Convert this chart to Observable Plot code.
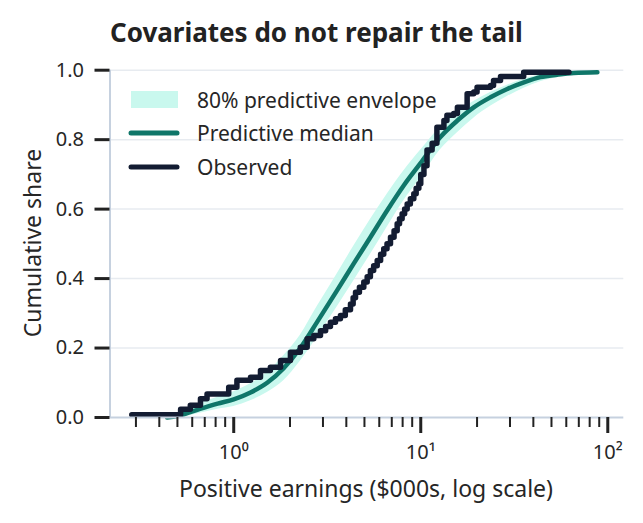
<!DOCTYPE html>
<html><head><meta charset="utf-8">
<script src="https://cdn.jsdelivr.net/npm/d3@7"></script>
<script src="https://cdn.jsdelivr.net/npm/@observablehq/plot@0.6"></script>
<style>
html,body{margin:0;padding:0;background:#fff;}
#wrap{position:relative;width:643px;height:523px;font-family:"Noto Sans",Lato,sans-serif;color:#262626;overflow:hidden;background:#fff}
#title{position:absolute;left:110px;top:19px;font-size:26px;line-height:26px;font-weight:700;color:#222;white-space:nowrap}
#chart{position:absolute;left:0;top:55px}
#ylab{position:absolute;left:32px;top:243px;transform:translate(-50%,-50%) rotate(-90deg);font-size:23px;line-height:23px;white-space:nowrap;color:#262626}
#xlab{position:absolute;left:366px;top:476.5px;transform:translateX(-50%);font-size:23px;line-height:23px;white-space:nowrap}
#legend{position:absolute;left:0;top:0;pointer-events:none}
</style>
</head><body>
<div id="wrap">
  <div id="title">Covariates do not repair the tail</div>
  <div id="chart"></div>
  <div id="ylab">Cumulative share</div>
  <div id="xlab">Positive earnings ($000s, log scale)</div>
  <svg id="legend" width="643" height="523" font-family="'Noto Sans', Lato, sans-serif" font-size="21" fill="#262626">
    <rect x="131" y="91" width="47" height="17" fill="#c9f8ee"></rect>
    <text x="197" y="108">80% predictive envelope</text>
    <line x1="131" x2="177" y1="133" y2="133" stroke="#0f7669" stroke-width="5" stroke-linecap="round"></line>
    <text x="197" y="141">Predictive median</text>
    <line x1="131" x2="177" y1="167" y2="167" stroke="#131c32" stroke-width="5" stroke-linecap="round"></line>
    <text x="197" y="175">Observed</text>
  </svg>
</div>
<script>
// Predictive median CDF and 80% envelope (earnings in $000s)
const medX  = [0.44, 0.50, 0.66, 0.82, 1.0, 1.23, 1.51, 1.85, 2.27, 2.8, 3.57, 4.38, 5.38, 6.61, 8.11, 10.0, 12.7, 15.7, 19.2, 23.6, 29.0, 35.6, 43.6, 53.6, 65.8, 88];
const medY  = [0.0, 0.004, 0.025, 0.04, 0.052, 0.072, 0.10, 0.142, 0.20, 0.276, 0.366, 0.443, 0.519, 0.596, 0.668, 0.733, 0.807, 0.855, 0.893, 0.922, 0.946, 0.965, 0.98, 0.987, 0.992, 0.994];
const envHi = [0.002, 0.010, 0.040, 0.058, 0.074, 0.097, 0.13, 0.178, 0.237, 0.32, 0.413, 0.493, 0.57, 0.643, 0.71, 0.77, 0.836, 0.879, 0.91, 0.936, 0.957, 0.974, 0.986, 0.991, 0.994, 0.996];
const envLo = [0.0, 0.0, 0.012, 0.024, 0.032, 0.048, 0.072, 0.106, 0.162, 0.232, 0.318, 0.393, 0.469, 0.548, 0.624, 0.69, 0.77, 0.82, 0.862, 0.896, 0.924, 0.948, 0.967, 0.978, 0.986, 0.99];

// Observed empirical CDF (step points)
const obsX = [0.285, 0.52, 0.586, 0.664, 0.72, 0.94, 1.04, 1.23, 1.39, 1.57, 1.78, 2.01, 2.27, 2.47, 2.68, 2.91, 3.1, 3.29, 3.5, 3.72, 3.95, 4.21, 4.35, 4.48, 4.7, 4.96, 5.17, 5.38, 5.6, 5.85, 6.1, 6.34, 6.6, 6.89, 7.2, 7.48, 7.7, 7.95, 8.2, 8.46, 8.8, 9.18, 9.45, 9.77, 10.0, 10.4, 10.8, 11.5, 12.2, 13.3, 13.8, 15.0, 15.7, 17.7, 19.2, 20.0, 23.6, 24.5, 26.7, 35.5, 62];
const obsY = [0.008, 0.024, 0.035, 0.054, 0.068, 0.087, 0.107, 0.116, 0.135, 0.145, 0.164, 0.188, 0.202, 0.227, 0.236, 0.25, 0.262, 0.274, 0.284, 0.294, 0.31, 0.327, 0.345, 0.361, 0.375, 0.39, 0.405, 0.423, 0.437, 0.452, 0.47, 0.486, 0.50, 0.519, 0.538, 0.558, 0.572, 0.587, 0.60, 0.615, 0.63, 0.644, 0.66, 0.673, 0.70, 0.725, 0.77, 0.79, 0.836, 0.855, 0.87, 0.875, 0.893, 0.932, 0.937, 0.951, 0.956, 0.97, 0.982, 0.994, 0.994];

const xDomain = [0.218, 121.8];
const yTicks = [0, 0.2, 0.4, 0.6, 0.8, 1.0];
const xMajor = [1, 10, 100];
const xMinor = [0.3, 0.4, 0.5, 0.6, 0.7, 0.8, 0.9, 2, 3, 4, 5, 6, 7, 8, 9, 20, 30, 40, 50, 60, 70, 80, 90];
const supers = {"0": "\u2070", "1": "\u00b9", "2": "\u00b2"};

const env = medX.map((x, i) => ({x, lo: envLo[i], hi: envHi[i]}));
const med = medX.map((x, i) => ({x, y: medY[i]}));
const obs = obsX.map((x, i) => ({x, y: obsY[i]}));

const chart = Plot.plot({
  width: 643,
  height: 468,
  marginLeft: 109.5,
  marginRight: 19.7,
  marginTop: 14.7,
  marginBottom: 106,
  x: {type: "log", domain: xDomain},
  y: {domain: [0, 1]},
  style: {fontFamily: "'Noto Sans', Lato, sans-serif", fontSize: "20px", color: "#262626", background: "transparent", overflow: "visible"},
  marks: [
    Plot.gridY(yTicks.filter(d => d > 0), {stroke: "#e7ebf0", strokeOpacity: 1, strokeWidth: 1.5}),
    Plot.areaY(env, {x: "x", y1: "lo", y2: "hi", fill: "#c9f8ee", curve: "monotone-x"}),
    Plot.line(med, {x: "x", y: "y", stroke: "#0f7669", strokeWidth: 4.5, curve: "monotone-x"}),
    Plot.line(obs, {x: "x", y: "y", stroke: "#131c32", strokeWidth: 5.5, curve: "step-after", strokeLinejoin: "round", strokeLinecap: "round"}),
    Plot.ruleY([0], {stroke: "#c6d1df", strokeWidth: 2}),
    Plot.ruleX([xDomain[0]], {y1: 0, y2: 1, stroke: "#c6d1df", strokeWidth: 2}),
    Plot.axisY(yTicks, {tickSize: 15, tickPadding: 11, tickFormat: d3.format(".1f"), stroke: "#222", strokeWidth: 3, strokeOpacity: 1, label: null}),
    Plot.axisX(xMajor, {tickSize: 16, tickPadding: 11, stroke: "#222", strokeWidth: 3, strokeOpacity: 1, label: null,
      tickFormat: d => "10" + String(Math.round(Math.log10(d))).split("").map(c => supers[c]).join("")}),
    Plot.axisX(xMinor, {tickSize: 10, stroke: "#222", strokeWidth: 2, strokeOpacity: 1, label: null, tickFormat: () => ""})
  ]
});
document.getElementById("chart").appendChild(chart);
</script>
</body></html>
